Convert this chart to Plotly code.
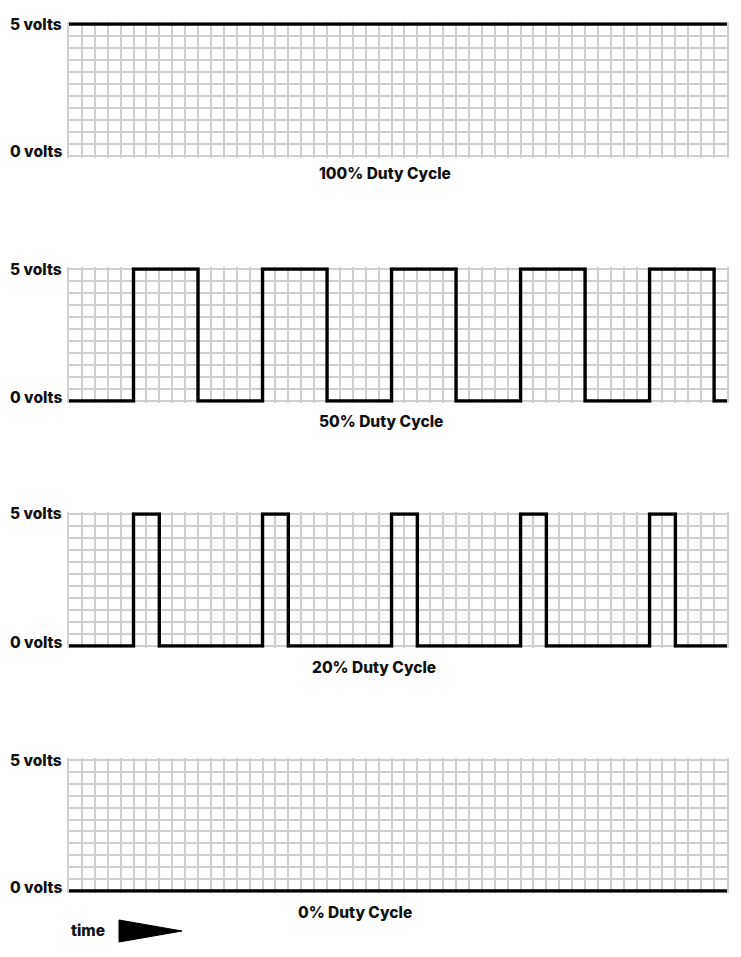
import plotly.graph_objects as go

# page body has an 8px margin; figure is placed at (8, 8)
OFF = 8
W, H = 741 - 2 * OFF, 957 - 2 * OFF

# ---- data ----
level_labels = ["5 volts", "0 volts"]
level_values = [5, 0]
titles = ["100% Duty Cycle", "50% Duty Cycle", "20% Duty Cycle", "0% Duty Cycle"]

# step signals: time (grid columns) and voltage, drawn with 'hv' steps
t_100 = [0, 51]
v_100 = [5, 5]

t_50 = [0, 5, 10, 15, 20, 25, 30, 35, 40, 45, 50, 51]
v_50 = [0, 5, 0, 5, 0, 5, 0, 5, 0, 5, 0, 0]

t_20 = [0, 5, 7, 15, 17, 25, 27, 35, 37, 45, 47, 51]
v_20 = [0, 5, 0, 5, 0, 5, 0, 5, 0, 5, 0, 0]

t_0 = [0, 51]
v_0 = [0, 0]

signals = [(t_100, v_100), (t_50, v_50), (t_20, v_20), (t_0, v_0)]

n_cols = 51
n_rows = 11

# ---- layout geometry (page pixels) ----
left_px, right_px = 69, 727
panels_px = [(24, 156), (269, 401), (514, 646), (760, 891)]  # (top, bottom) of 5V / 0V lines
title_pos = [(385, 173), (381, 421), (374, 667), (355, 912)]
pad_v = 0.07
GRID = "#cfcfcf"


def px_x(x):
    return (x - OFF) / W


def px_y(y):
    return 1 - (y - OFF) / H


FONT = dict(family="Inter, Liberation Sans, Arial", size=15.5, color="#111111", weight=800)

fig = go.Figure()
layout = dict(
    width=W, height=H, autosize=False,
    margin=dict(l=0, r=0, t=0, b=0),
    paper_bgcolor="white", plot_bgcolor="white",
    showlegend=False,
)

annotations = []
for i, ((t, v), (top, bot)) in enumerate(zip(signals, panels_px)):
    n = "" if i == 0 else str(i + 1)
    ppv = (bot - top) / 5.0
    d_top = top - pad_v * ppv
    d_bot = bot + pad_v * ppv
    layout["xaxis" + n] = dict(
        domain=[px_x(left_px), px_x(right_px)], range=[0, n_cols],
        tick0=0, dtick=1, showgrid=True, gridcolor=GRID, gridwidth=1.6,
        showticklabels=False, ticks="", zeroline=False, showline=False,
        anchor="y" + n, fixedrange=True,
    )
    layout["yaxis" + n] = dict(
        domain=[px_y(d_bot), px_y(d_top)], range=[-pad_v, 5 + pad_v],
        tick0=0, dtick=5 / n_rows, showgrid=True, gridcolor=GRID, gridwidth=1.6,
        showticklabels=False, ticks="", zeroline=False,
        showline=True, mirror=True, linecolor=GRID, linewidth=1.6,
        anchor="x" + n, fixedrange=True,
    )
    fig.add_trace(go.Scatter(
        x=t, y=v, mode="lines", line=dict(color="#000000", width=3.4, shape="hv"),
        xaxis="x" + n, yaxis="y" + n, hoverinfo="skip",
    ))
    for lab, val in zip(level_labels, level_values):
        ypx = top if val == 5 else bot - 4
        annotations.append(dict(
            text=lab, x=px_x(64), y=px_y(ypx), xref="paper", yref="paper",
            xanchor="right", yanchor="middle", showarrow=False, font=FONT,
        ))
    tx, ty = title_pos[i]
    annotations.append(dict(
        text=titles[i], x=px_x(tx), y=px_y(ty), xref="paper", yref="paper",
        xanchor="center", yanchor="middle", showarrow=False, font=FONT,
    ))

annotations.append(dict(
    text="time", x=px_x(69), y=px_y(930), xref="paper", yref="paper",
    xanchor="left", yanchor="middle", showarrow=False, font=FONT,
))

# time arrow (triangle)
tri = "M {},{} L {},{} L {},{} Z".format(
    px_x(119), px_y(920), px_x(182), px_y(931), px_x(119), px_y(942))
layout["shapes"] = [dict(type="path", xref="paper", yref="paper", path=tri,
                         fillcolor="#000000", line=dict(color="#000000", width=1))]
layout["annotations"] = annotations

fig.update_layout(**layout)
fig.write_html("out.html", config={"displayModeBar": False})
